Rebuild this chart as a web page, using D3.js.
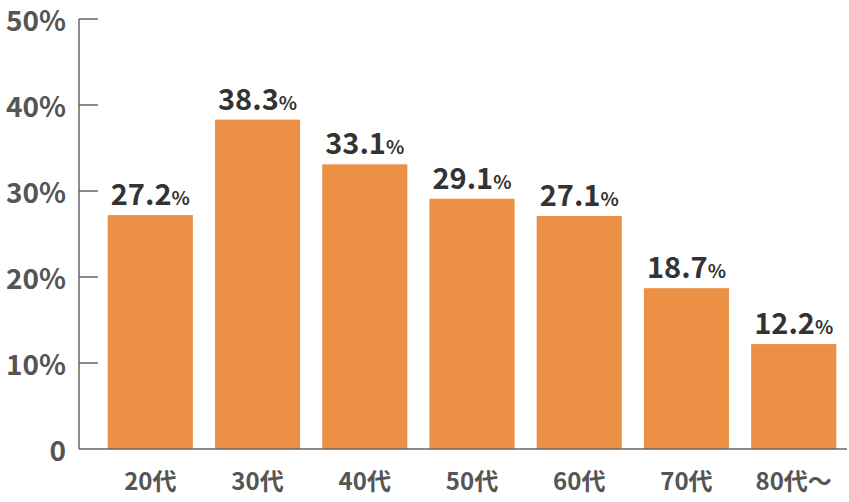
<!DOCTYPE html>
<html><head><meta charset="utf-8">
<script src="https://cdn.jsdelivr.net/npm/d3@7"></script>
<style>body{margin:0;background:#fff}text{font-family:"Noto Sans CJK JP","Noto Sans",sans-serif;font-weight:bold}</style>
</head><body><svg id="c" width="849" height="502"></svg>
<script>
// data
const categories = ["20代", "30代", "40代", "50代", "60代", "70代", "80代〜"];
const values = [27.2, 38.3, 33.1, 29.1, 27.1, 18.7, 12.2];
const yTicks = [0, 10, 20, 30, 40, 50];

const svg = d3.select("#c");
const axisX = 79;
const x = d3.scaleBand().domain(categories).range([97, 847]).paddingInner(0.206).paddingOuter(0.1);
const y = d3.scaleLinear().domain([0, 50]).range([449, 19]);

// bars
svg.selectAll("rect.bar").data(values).enter().append("rect")
    .attr("class", "bar")
    .attr("x", (d, i) => x(categories[i]))
    .attr("y", d => y(d))
    .attr("width", x.bandwidth())
    .attr("height", d => y(0) - y(d))
    .attr("fill", "#EB9045");

// value labels
const lab = svg.selectAll("text.val").data(values).enter().append("text")
    .attr("class", "val")
    .attr("x", (d, i) => x(categories[i]) + x.bandwidth() / 2)
    .attr("y", d => y(d) - 10)
    .attr("text-anchor", "middle")
    .attr("fill", "#333");
lab.append("tspan").attr("font-size", 29).text(d => d.toFixed(1));
lab.append("tspan").attr("font-size", 19).text("%");

// y axis
svg.append("line").attr("x1", axisX).attr("x2", axisX).attr("y1", y(50)).attr("y2", y(0))
    .attr("stroke", "#666").attr("stroke-width", 1.5);
svg.append("line").attr("x1", axisX).attr("x2", 847).attr("y1", y(0)).attr("y2", y(0))
    .attr("stroke", "#666").attr("stroke-width", 1.5);
svg.selectAll("line.tick").data(yTicks.slice(1)).enter().append("line")
    .attr("x1", axisX).attr("x2", 98).attr("y1", d => y(d)).attr("y2", d => y(d))
    .attr("stroke", "#666").attr("stroke-width", 1.5);
svg.selectAll("text.yl").data(yTicks).enter().append("text")
    .attr("x", 66).attr("y", d => y(d) + 12)
    .attr("text-anchor", "end").attr("font-size", 28).attr("fill", "#555")
    .text(d => d === 0 ? "0" : d + "%");

// x labels
svg.selectAll("text.xl").data(categories).enter().append("text")
    .attr("x", d => x(d) + x.bandwidth() / 2).attr("y", 490)
    .attr("text-anchor", "middle").attr("font-size", 24).attr("fill", "#555")
    .text(d => d);
</script></body></html>
